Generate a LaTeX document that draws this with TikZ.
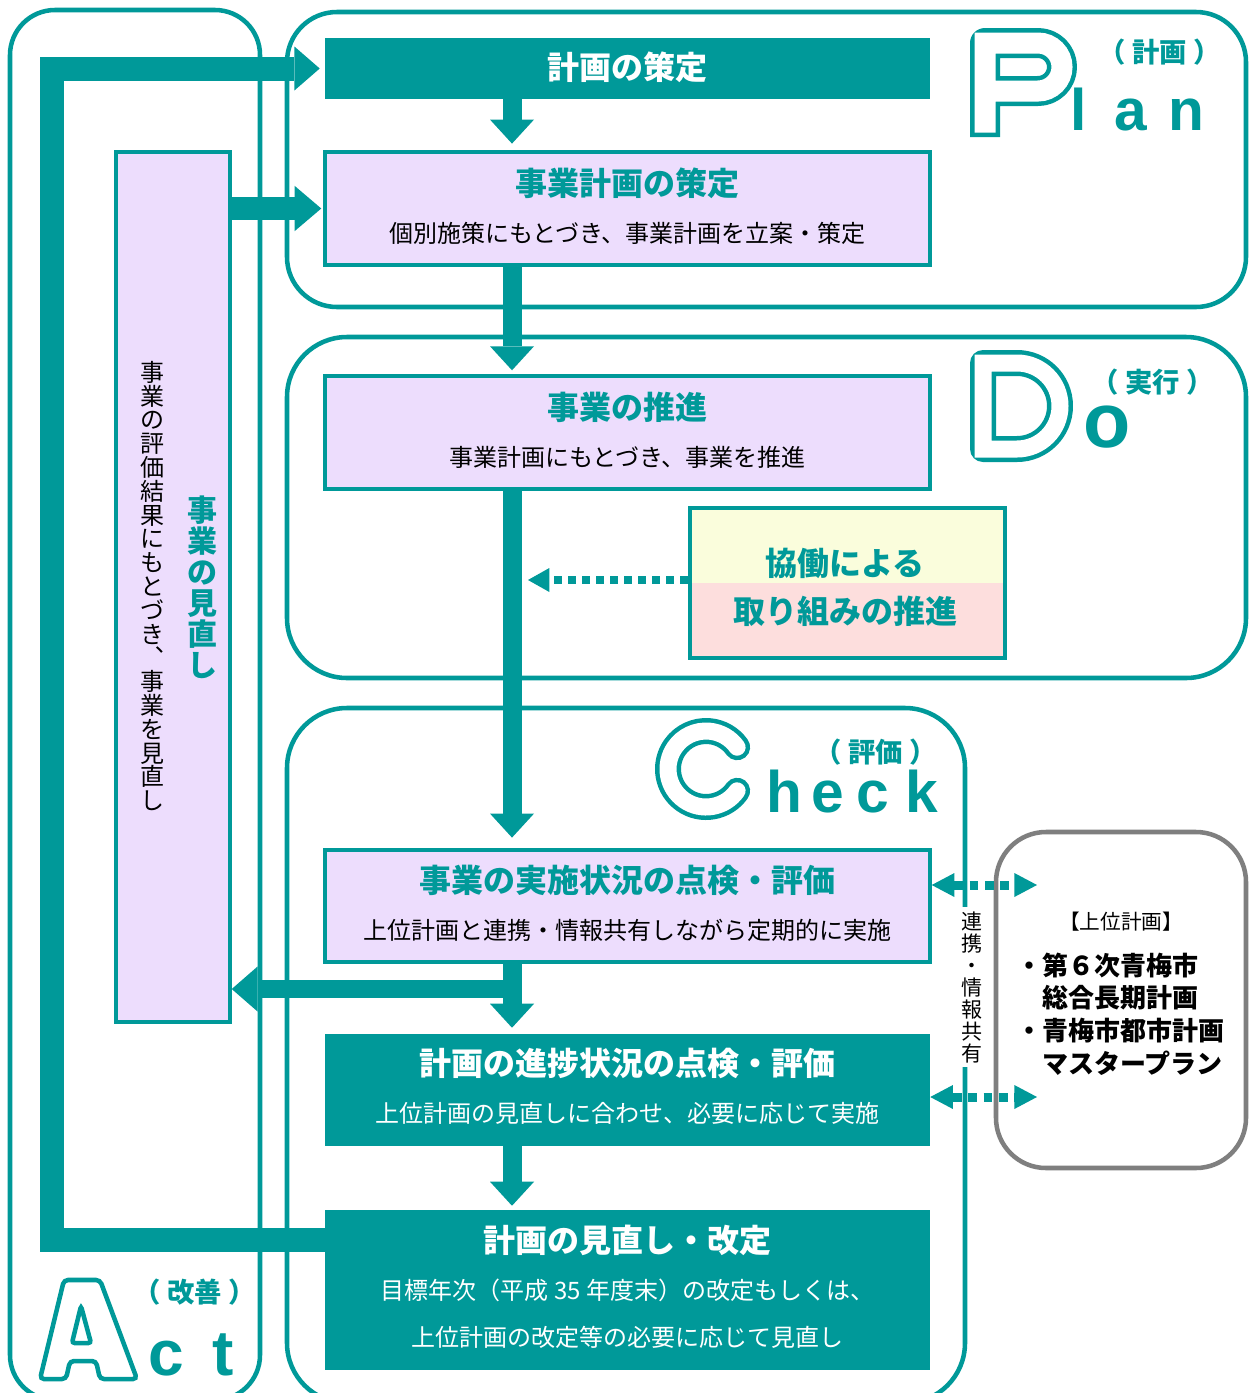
\documentclass[tikz,border=0pt]{standalone}
\usepackage{fontspec}
\setmainfont{Noto Sans CJK JP}
\newfontfamily\latin{Liberation Sans}
\usetikzlibrary{arrows.meta}
\definecolor{tealc}{HTML}{009999}
\definecolor{lav}{HTML}{EDDDFD}
\definecolor{yel}{HTML}{FAFDDC}
\definecolor{pnk}{HTML}{FDDEDD}
\definecolor{grayc}{HTML}{7F7F7F}
\newcommand\noLS{\lineskiplimit=-30pt\relax\lineskip=0pt\relax}
\newcommand\pk{\kern5pt\relax}
\begin{document}
\begin{tikzpicture}[x=0.75pt,y=-0.75pt,
  pframe/.style={draw=tealc, line width=3.4pt},
  lavbox/.style={draw=tealc, line width=2.6pt, fill=lav, minimum width=453.75pt, inner sep=0pt},
  tealbox/.style={fill=tealc, minimum width=453.75pt, inner sep=0pt},
  ttl/.style={font=\bfseries\fontsize{24}{24}\selectfont, text=tealc, inner sep=0pt},
  ttlw/.style={ttl, text=white},
  subt/.style={font=\fontsize{18}{18}\selectfont, text=black, inner sep=0pt},
  subw/.style={subt, text=white},
  paren/.style={font=\bfseries\fontsize{20.5}{20.5}\selectfont, text=tealc, inner sep=0pt},
  flow/.style={draw=tealc, line width=14.25pt, -{Triangle[length=18pt,width=33pt,line width=0pt]}},
  dotarr/.style={draw=tealc, line width=6pt, dash pattern=on 6pt off 4.5pt, -{Triangle[length=16pt,width=18pt,line width=0pt]}},
  dotboth/.style={draw=tealc, line width=6.75pt, dash pattern=on 6.5pt off 5pt, {Triangle[length=17pt,width=18pt,line width=0pt]}-{Triangle[length=17pt,width=18pt,line width=0pt]}},
  bigltr/.style={font=\latin\bfseries\fontsize{44}{44}\selectfont, text=tealc, inner sep=0pt, anchor=base},
  lout/.style={draw=tealc, line width=22.5pt, line join=round},
  lin/.style={draw=white, line width=15.75pt, line join=miter},
  vtext/.style={align=center, inner sep=0pt}
]
\useasboundingbox (0,0) rectangle (1250,1393);
\fill[white] (0,0) rectangle (1250,1393);
\clip (0,0) rectangle (1250,1393);

% phase frames
\draw[pframe, rounded corners=33.75pt] (10,10) rectangle (260,1400);
\draw[pframe, rounded corners=37.5pt] (287,12) rectangle (1246,307);
\draw[pframe, rounded corners=45pt] (287,337) rectangle (1246,678);
\draw[pframe, rounded corners=45pt] (287,708) rectangle (965,1403);

% boxes
\node[tealbox, minimum height=45.75pt] (sakutei) at (627.5,68.5) {};
\node[lavbox, minimum height=84.75pt] (jkeikaku) at (627.5,208.5) {};
\node[lavbox, minimum height=84.75pt] (suishin) at (627.5,432.5) {};
\node[draw=tealc, line width=3.4pt, fill=pnk, minimum width=236.25pt, minimum height=112.5pt, inner sep=0pt,
  path picture={\fill[yel] (path picture bounding box.north west) rectangle (path picture bounding box.east);}] (kyodo) at (847.5,583) {};
\node[lavbox, minimum height=84pt] (jisshi) at (627.5,906) {};
\node[tealbox, minimum height=84pt] (shinchoku) at (627.5,1090) {};
\node[tealbox, minimum height=120pt] (kaitei) at (627.5,1290) {};
\node[draw=tealc, line width=2.6pt, fill=lav, minimum width=85.5pt, minimum height=652.5pt, inner sep=0pt] (minaoshi) at (173,587) {};
\node[draw=grayc, line width=3.4pt, rounded corners=37.5pt, minimum width=187.5pt, minimum height=252pt, inner sep=0pt] (joui) at (1121,1000) {};

% coordinates
\coordinate (sx) at (512,0);
\coordinate (actBL) at (52,1240);
\coordinate (actTL) at (52,68.5);
\coordinate (split) at (521,989);
\coordinate (dotend) at (528,580);
\coordinate (r1) at (1037,885);
\coordinate (r2) at (1037,1097);

% flow arrows
\draw[flow, shorten >=5pt] (sakutei.south -| sx) -- (jkeikaku.north -| sx);
\draw[flow, shorten >=3pt] (jkeikaku.south -| sx) -- (suishin.north -| sx);
\draw[flow, shorten >=8pt] (suishin.south -| sx) -- (jisshi.north -| sx);
\draw[flow, shorten >=4.5pt] (jisshi.south -| sx) -- (shinchoku.north -| sx);
\draw[flow, shorten >=3pt] (shinchoku.south -| sx) -- (kaitei.north -| sx);
\draw[draw=tealc, line width=13.5pt, -{Triangle[length=19.5pt,width=34pt,line width=0pt]}] (split) -- (minaoshi.east |- split);
\draw[draw=tealc, line width=17pt, shorten >=1.5pt, -{Triangle[length=20pt,width=34pt,line width=0pt]}] (minaoshi.east |- jkeikaku.west) -- (jkeikaku.west);
\draw[draw=tealc, line width=18pt, line join=miter, shorten >=3.75pt, -{Triangle[length=19pt,width=33pt,line width=0pt]}] (kaitei.west |- actBL) -- (actBL) -- (actTL) -- (sakutei.west);

% dotted arrows
\draw[dotarr] (kyodo.west |- dotend) -- (dotend);
\draw[dotboth] (jisshi.east |- r1) -- (r1);
\draw[dotboth] (shinchoku.east |- r2) -- (r2);

% big outline letters
\draw[lout, line cap=rect] (985,122) -- (985,43) -- (1038,43) arc[start angle=-90,end angle=90,radius=24] -- (985,91);
\draw[lin, line cap=rect] (985,122) -- (985,43) -- (1038,43) arc[start angle=-90,end angle=90,radius=24] -- (985,91);
\draw[lout, line width=19.5pt] (983,363) -- (1017,363) arc[start angle=-90,end angle=90,radius=43] -- (983,449) -- cycle;
\draw[lin, line width=12.75pt] (983,363) -- (1017,363) arc[start angle=-90,end angle=90,radius=43] -- (983,449) -- cycle;
\draw[lout, line width=19.5pt, line cap=round] (737.13,790.8) arc[start angle=35,end angle=325,radius=38];
\draw[lin, line width=12.75pt, line cap=round] (737.13,790.8) arc[start angle=35,end angle=325,radius=38];
\filldraw[fill=white, draw=tealc, line width=3.4pt, rounded corners=3pt] (40,1379) -- (64,1280) -- (100,1280) -- (137,1379) -- (100,1379) -- (96,1361) -- (70,1361) -- (66,1379) -- cycle;
\draw[draw=tealc, line width=3.4pt, rounded corners=2pt] (72,1343) -- (81,1306) -- (91,1343) -- cycle;

% solid letters
\node[bigltr] (pl) at (1079,130) {l};
\node[bigltr] (pa) at (1131,130) {a};
\node[bigltr] (pn) at (1186,130) {n};
\node[bigltr, font=\latin\bfseries\fontsize{58}{58}\selectfont] (do) at (1107,447) {o};
\node[bigltr] (ch) at (784,812) {h};
\node[bigltr] (ce) at (828,812) {e};
\node[bigltr] (cc) at (873,812) {c};
\node[bigltr] (ck) at (922,812) {k};
\node[bigltr, font=\latin\bfseries\fontsize{48}{48}\selectfont] (ac) at (166,1375) {c};
\node[bigltr, font=\latin\bfseries\fontsize{48}{48}\selectfont] (at) at (223,1375) {t};

% parenthesised labels
\node[paren] (pP) at (1160,52) {（\pk 計画\pk ）};
\node[paren] (pD) at (1153,382) {（\pk 実行\pk ）};
\node[paren] (pC) at (876,752) {（\pk 評価\pk ）};
\node[paren] (pA) at (195,1292) {（\pk 改善\pk ）};

% box texts
\node[ttlw] (t1) at (627.5,67) {計画の策定};
\node[ttl] (t2) at (627.5,183) {事業計画の策定};
\node[subt] (s2) at (627.5,233) {個別施策にもとづき、事業計画を立案・策定};
\node[ttl] (t3) at (627.5,407) {事業の推進};
\node[subt] (s3) at (627.5,457) {事業計画にもとづき、事業を推進};
\node[ttl] (k1) at (845,563) {協働による};
\node[ttl] (k2) at (845,611) {取り組みの推進};
\node[ttl] (t4) at (627.5,880) {事業の実施状況の点検・評価};
\node[subt] (s4) at (627.5,930) {上位計画と連携・情報共有しながら定期的に実施};
\node[ttlw] (t5) at (627.5,1063) {計画の進捗状況の点検・評価};
\node[subw] (s5) at (627.5,1113) {上位計画の見直しに合わせ、必要に応じて実施};
\node[ttlw] (t6) at (627.5,1240) {計画の見直し・改定};
\node[subw] (s6a) at (627.5,1290) {目標年次（平成 35 年度末）の改定もしくは、};
\node[subw] (s6b) at (627.5,1337) {上位計画の改定等の必要に応じて見直し};

% vertical texts
\node[vtext, text=tealc, font={\bfseries\fontsize{22.5}{23.25}\selectfont\noLS}] (mv1) at (202,587) {事\\業\\の\\見\\直\\し};
\node[vtext, font={\fontsize{18}{17.85}\selectfont\noLS}] (mv2) at (152,586) {事\\業\\の\\評\\価\\結\\果\\に\\も\\と\\づ\\き\\︑\\事\\業\\を\\見\\直\\し};
\node[vtext, fill=white, inner xsep=1pt, inner ysep=3pt, font={\fontsize{15.75}{16.5}\selectfont\noLS}] (renkei) at (972,987) {連\\携\\・\\情\\報\\共\\有};

% upper plan box texts
\node[font=\fontsize{15.5}{15.5}\selectfont, inner sep=0pt] (jt) at (1121,922) {【上位計画】};
\node[anchor=west, align=left, inner sep=0pt, font=\bfseries\fontsize{19.5}{24.5}\selectfont] (jlist) at (1016,1014) {・第６次青梅市\\\hspace*{1em}総合長期計画\\・青梅市都市計画\\\hspace*{1em}マスタープラン};
\end{tikzpicture}
\end{document}
